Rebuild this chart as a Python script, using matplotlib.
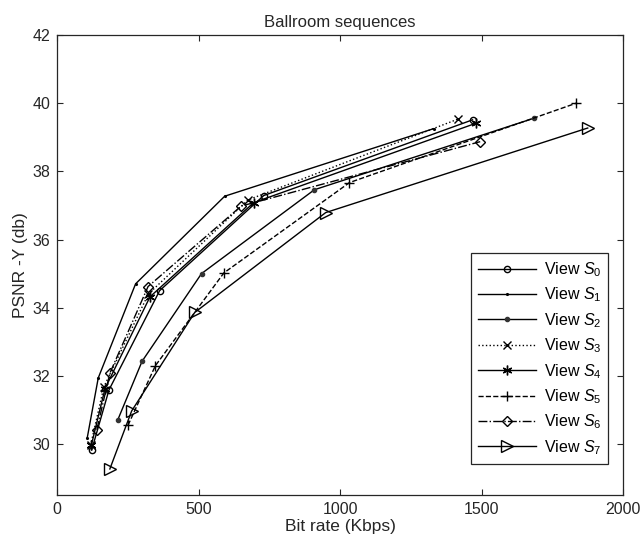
import numpy as np
import matplotlib
matplotlib.use("Agg")
import matplotlib.pyplot as plt

plt.rcParams['font.family'] = ['Liberation Sans', 'DejaVu Sans']
plt.rcParams['mathtext.fontset'] = 'custom'
plt.rcParams['mathtext.rm'] = 'Liberation Sans'
plt.rcParams['mathtext.it'] = 'Liberation Sans:italic'

# rate (Kbps) / PSNR-Y (db) per view
s0_x = [122, 183, 362, 730, 1468]
s0_y = [29.83, 31.59, 34.50, 37.29, 39.51]
s1_x = [106, 145, 277, 592, 1330]
s1_y = [30.18, 31.94, 34.70, 37.27, 39.25]
s2_x = [214, 300, 510, 909, 1686]
s2_y = [30.71, 32.43, 35.00, 37.46, 39.56]
s3_x = [118, 165, 322, 674, 1416]
s3_y = [29.97, 31.68, 34.40, 37.16, 39.53]
s4_x = [121, 169, 328, 694, 1480]
s4_y = [29.98, 31.63, 34.32, 37.08, 39.41]
s5_x = [250, 347, 589, 1033, 1835]
s5_y = [30.55, 32.30, 35.02, 37.67, 40.00]
s6_x = [140, 186, 321, 650, 1495]
s6_y = [30.42, 32.08, 34.62, 36.98, 38.87]
s7_x = [186, 263, 486, 949, 1875]
s7_y = [29.27, 30.97, 33.86, 36.79, 39.27]

xs = [s0_x, s1_x, s2_x, s3_x, s4_x, s5_x, s6_x, s7_x]
ys = [s0_y, s1_y, s2_y, s3_y, s4_y, s5_y, s6_y, s7_y]
labels = ['View $S_%d$' % i for i in range(8)]

# linestyle, marker, size, face colour
styles = [('-', 'o', 4.5, 'none'),
          ('-', '.', 2.5, 'black'),
          ('-', 'o', 3.0, '#333333'),
          (':', 'x', 5.5, 'none'),
          ('-', (6, 2, 0), 7.0, 'none'),
          ('--', '+', 7.5, 'none'),
          ('-.', 'D', 5.5, 'none'),
          ('-', '>', 8.0, 'none')]

fig = plt.figure(figsize=(6.43, 5.46), dpi=100)
ax = fig.add_axes([0.089, 0.093, 0.880, 0.843])

for x, y, lab, (ls, mk, ms, mfc) in zip(xs, ys, labels, styles):
    ax.plot(x, y, linestyle=ls, marker=mk, markersize=ms, color='black',
            markerfacecolor=mfc, markeredgecolor='#333333' if mfc == '#333333' else 'black',
            linewidth=1.0, markeredgewidth=1.0, label=lab)

ax.set_xlim(0, 2000)
ax.set_ylim(28.5, 42)
ax.set_xticks([0, 500, 1000, 1500, 2000])
ax.set_yticks([30, 32, 34, 36, 38, 40, 42])
ax.tick_params(direction='in', top=True, right=True, length=4, width=0.8,
               colors='#262626', labelsize=11.5, pad=5)
for sp in ax.spines.values():
    sp.set_color('#262626')
    sp.set_linewidth(0.9)

ax.set_xlabel('Bit rate (Kbps)', fontsize=12.5, color='#262626', labelpad=1)
ax.set_ylabel('PSNR -Y (db)', fontsize=12.5, color='#262626', labelpad=3)
ax.set_title('Ballroom sequences', fontsize=12, color='#262626', pad=6)

leg = ax.legend(loc='lower right', bbox_to_anchor=(0.974, 0.068), borderaxespad=0,
                fontsize=11.5, handlelength=3.6, handletextpad=0.5,
                labelspacing=0.42, fancybox=False, framealpha=1,
                edgecolor='#262626', borderpad=0.45)
leg.get_frame().set_linewidth(0.9)

fig.savefig('out.png', dpi=100)
